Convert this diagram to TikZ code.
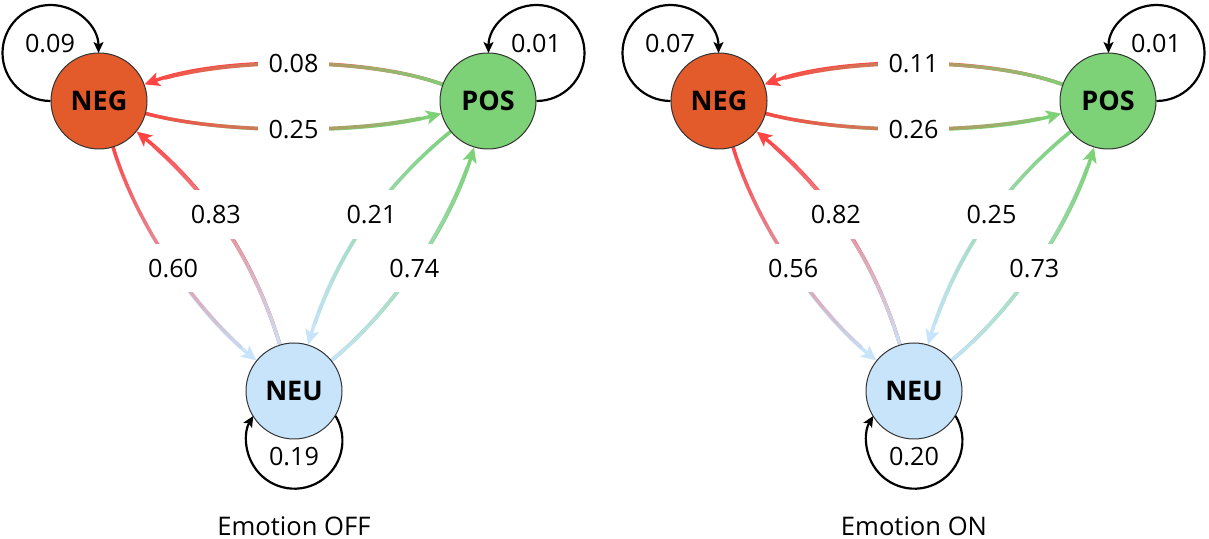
\documentclass[tikz,border=0pt]{standalone}
\usepackage{fontspec}
\setmainfont{Open Sans}
\usetikzlibrary{arrows.meta,backgrounds}

\definecolor{negfill}{HTML}{E35A2B}
\definecolor{posfill}{HTML}{7DD177}
\definecolor{neufill}{HTML}{C7E4FB}
\definecolor{negline}{HTML}{FF4444}
\definecolor{posline}{HTML}{7DD177}
\definecolor{neuline}{HTML}{C7E4FB}

% #1 from, #2 to, #3 from colour, #4 to colour, #5 bend, #6 looseness,
% #7 label pos, #8 label, #9 label name
\newcommand{\flowedge}[9]{%
  \begin{pgfonlayer}{background}
    \draw[flow line, draw=#4, -{Stealth[length=7.5pt,width=7pt,inset=1.8pt]}]
      (#1) to[bend right=#5, looseness=#6] (#2);
    \foreach \i [evaluate=\i as \tpos using \i/24] in {0,...,22}
      \path (#1) to[bend right=#5, looseness=#6] coordinate[pos=\tpos] (g\i) (#2);
    \foreach \i [evaluate=\i as \nxt using int(\i+1),
                 evaluate=\i as \pct using int(100-(\i+0.5)*100/24)] in {0,...,21}
      \draw[flow line, line cap=round, draw=#3!\pct!#4] (g\i) -- (g\nxt);
  \end{pgfonlayer}
  \path (#1) to[bend right=#5, looseness=#6] node[prob label, pos=#7] (#9) {#8} (#2);
}

\begin{document}
\begin{tikzpicture}[
    x=0.5pt, y=0.5pt,
    mood node/.style={circle, draw=black!80, line width=0.5pt, minimum size=48pt,
        inner sep=0pt, font=\fontsize{13.5}{15}\selectfont\bfseries},
    flow line/.style={line width=1.75pt},
    self loop/.style={draw=black, line width=1.1pt,
        -{Stealth[length=5.5pt,width=5pt,inset=1.3pt]}},
    prob label/.style={fill=white, inner xsep=5.5pt, inner ysep=7.5pt,
        font=\fontsize{12.6}{14}\selectfont},
    loop label/.style={inner sep=0pt, font=\fontsize{12.6}{14}\selectfont},
    panel title/.style={inner sep=0pt, font=\fontsize{12.8}{15}\selectfont}
]
    \useasboundingbox (0,0) rectangle (1209,539);

    % emotion off
    \begin{scope}
        \node[mood node, fill=negfill] (negA) at (99,438) {NEG};
        \node[mood node, fill=posfill] (posA) at (488,438) {POS};
        \node[mood node, fill=neufill] (neuA) at (294,148) {NEU};

        \draw[self loop] (negA.west) arc[start angle=270, end angle=0, radius=24pt];
        \draw[self loop] (posA.east) arc[start angle=270, end angle=540, radius=24pt];
        \draw[self loop] (neuA.-31) arc[start angle=31, end angle=-211, radius=24pt];
        \node[loop label] (lnegA) at (50,495) {0.09};
        \node[loop label] (lposA) at (536,495) {0.01};
        \node[loop label] (lneuA) at (294,82) {0.19};

        \flowedge{posA}{negA}{posline}{negline}{20}{0.7}{0.5}{0.08}{pnA}
        \flowedge{negA}{posA}{negline}{posline}{15}{0.7}{0.5}{0.25}{npA}
        \flowedge{negA}{neuA}{negline}{neuline}{17}{0.8}{0.52}{0.60}{nuA}
        \flowedge{neuA}{negA}{neuline}{negline}{17}{0.9}{0.56}{0.83}{unA}
        \flowedge{posA}{neuA}{posline}{neuline}{17}{0.9}{0.44}{0.21}{puA}
        \flowedge{neuA}{posA}{neuline}{posline}{17}{0.8}{0.48}{0.74}{upA}

        \node[panel title] (titleA) at (294,13) {Emotion OFF};
    \end{scope}

    % emotion on
    \begin{scope}[xshift=310pt]
        \node[mood node, fill=negfill] (negB) at (99,438) {NEG};
        \node[mood node, fill=posfill] (posB) at (488,438) {POS};
        \node[mood node, fill=neufill] (neuB) at (294,148) {NEU};

        \draw[self loop] (negB.west) arc[start angle=270, end angle=0, radius=24pt];
        \draw[self loop] (posB.east) arc[start angle=270, end angle=540, radius=24pt];
        \draw[self loop] (neuB.-31) arc[start angle=31, end angle=-211, radius=24pt];
        \node[loop label] (lnegB) at (50,495) {0.07};
        \node[loop label] (lposB) at (536,495) {0.01};
        \node[loop label] (lneuB) at (294,82) {0.20};

        \flowedge{posB}{negB}{posline}{negline}{20}{0.7}{0.5}{0.11}{pnB}
        \flowedge{negB}{posB}{negline}{posline}{15}{0.7}{0.5}{0.26}{npB}
        \flowedge{negB}{neuB}{negline}{neuline}{17}{0.8}{0.52}{0.56}{nuB}
        \flowedge{neuB}{negB}{neuline}{negline}{17}{0.9}{0.56}{0.82}{unB}
        \flowedge{posB}{neuB}{posline}{neuline}{17}{0.9}{0.44}{0.25}{puB}
        \flowedge{neuB}{posB}{neuline}{posline}{17}{0.8}{0.48}{0.73}{upB}

        \node[panel title] (titleB) at (294,13) {Emotion ON};
    \end{scope}
\end{tikzpicture}
\end{document}
